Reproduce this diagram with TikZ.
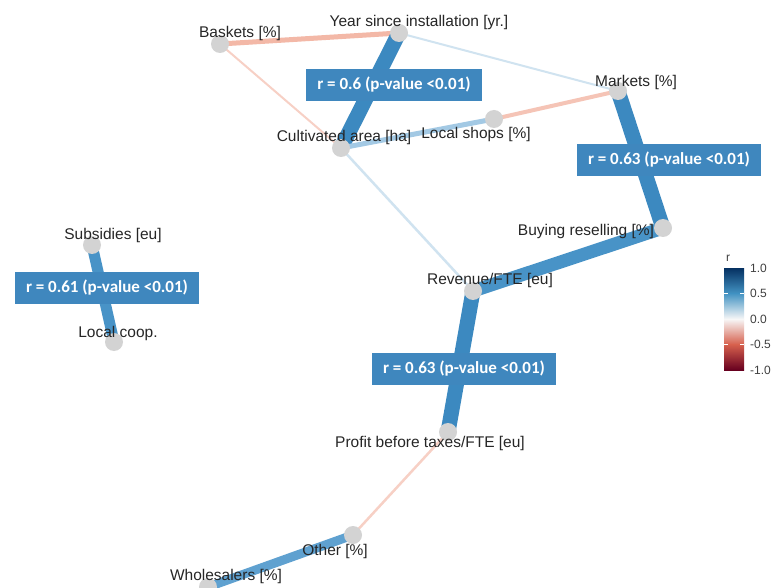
\documentclass[tikz,border=0pt]{standalone}
\usepackage{fontspec}
\setmainfont{Liberation Sans}
\newfontfamily\boxfont{Carlito}
\usetikzlibrary{backgrounds}

\definecolor{dotgrey}{RGB}{211,211,211}
\definecolor{boxblue}{RGB}{63,135,190}
\definecolor{posstrong}{RGB}{60,137,192}
\definecolor{posmid}{RGB}{72,147,199}
\definecolor{poslow}{RGB}{95,161,208}
\definecolor{posweak}{RGB}{163,201,228}
\definecolor{posfaint}{RGB}{208,227,240}
\definecolor{negmid}{RGB}{243,184,167}
\definecolor{negweak}{RGB}{245,196,182}
\definecolor{negfaint}{RGB}{247,208,197}
\definecolor{rdbuA}{RGB}{5,48,97}
\definecolor{rdbuB}{RGB}{33,102,172}
\definecolor{rdbuC}{RGB}{67,147,195}
\definecolor{rdbuD}{RGB}{146,197,222}
\definecolor{rdbuE}{RGB}{247,247,247}
\definecolor{rdbuF}{RGB}{244,165,130}
\definecolor{rdbuG}{RGB}{214,96,77}
\definecolor{rdbuH}{RGB}{178,24,43}
\definecolor{rdbuI}{RGB}{103,0,31}

\begin{document}
\begin{tikzpicture}[x=1pt, y=-1pt, inner sep=0pt,
  dot/.style={circle, minimum size=18pt, fill=dotgrey},
  var/.style={font=\fontsize{15.5}{18}\selectfont, text=black!85},
  rbox/.style={fill=boxblue, text=white, inner xsep=11.5pt, minimum height=32pt,
    font=\boxfont\bfseries\fontsize{17}{20}\selectfont},
  tick/.style={font=\fontsize{12}{14}\selectfont, text=black!75, anchor=west}]
\useasboundingbox (0,0) rectangle (771,588);

% variables
\node (bsk) at (220,44) [dot] {};
\node (yr) at (399,33) [dot] {};
\node (mkt) at (618,91) [dot] {};
\node (lsh) at (494,119) [dot] {};
\node (cult) at (341,148) [dot] {};
\node (buy) at (663,228) [dot] {};
\node (rev) at (473,291) [dot] {};
\node (sub) at (92,245) [dot] {};
\node (coop) at (114,342) [dot] {};
\node (prof) at (448,432) [dot] {};
\node (oth) at (353,535) [dot] {};
\node (whs) at (208,587) [dot] {};

% correlations
\begin{scope}[on background layer]
\fill[white] (0,0) rectangle (771,588);
\draw[negmid, line width=5pt] (bsk.center) -- (yr.center);
\draw[negfaint, line width=2pt] (bsk.center) -- (cult.center);
\draw[posfaint, line width=2pt] (yr.center) -- (mkt.center);
\draw[posstrong, line width=15pt] (yr.center) -- (cult.center);
\draw[negweak, line width=4pt] (mkt.center) -- (lsh.center);
\draw[posweak, line width=5pt] (lsh.center) -- (cult.center);
\draw[posfaint, line width=2.5pt] (cult.center) -- (rev.center);
\draw[posstrong, line width=15pt] (mkt.center) -- (buy.center);
\draw[posmid, line width=13pt] (buy.center) -- (rev.center);
\draw[posstrong, line width=15pt] (rev.center) -- (prof.center);
\draw[negfaint, line width=2.5pt] (prof.center) -- (oth.center);
\draw[poslow, line width=9pt] (oth.center) -- (whs.center);
\draw[posmid, line width=11pt] (sub.center) -- (coop.center);
\end{scope}

% names
\node (bskl) at (240,33) [var] {Baskets [\%]};
\node (yrl) at (419,22) [var] {Year since installation [yr.]};
\node (mktl) at (636,82) [var] {Markets [\%]};
\node (lshl) at (476,134) [var] {Local shops [\%]};
\node (cultl) at (344,137) [var] {Cultivated area [ha]};
\node (buyl) at (586,231) [var] {Buying reselling [\%]};
\node (revl) at (490,280) [var] {Revenue/FTE [eu]};
\node (subl) at (113,235) [var] {Subsidies [eu]};
\node (coopl) at (118,333) [var] {Local coop.};
\node (profl) at (430,443) [var] {Profit before taxes/FTE [eu]};
\node (othl) at (335,551) [var] {Other [\%]};
\node (whsl) at (226,576) [var] {Wholesalers [\%]};

% significant pairs
\node (r1) at (394,85) [rbox] {r = 0.6 (p-value <0.01)};
\node (r2) at (669,160) [rbox] {r = 0.63 (p-value <0.01)};
\node (r3) at (107,288) [rbox] {r = 0.61 (p-value <0.01)};
\node (r4) at (464,369) [rbox] {r = 0.63 (p-value <0.01)};

% legend
\node (rt) at (728,258) [font=\fontsize{12}{14}\selectfont, text=black!75] {r};
\shade[top color=rdbuA, middle color=rdbuB, bottom color=rdbuC] (724,268) rectangle (744,293.5);
\shade[top color=rdbuC, middle color=rdbuD, bottom color=rdbuE] (724,293.5) rectangle (744,319);
\shade[top color=rdbuE, middle color=rdbuF, bottom color=rdbuG] (724,319) rectangle (744,344.5);
\shade[top color=rdbuG, middle color=rdbuH, bottom color=rdbuI] (724,344.5) rectangle (744,370);
\draw[white, line width=0.8pt] (724,293.5) -- (728,293.5) (740,293.5) -- (744,293.5);
\draw[white, line width=0.8pt] (724,344.5) -- (728,344.5) (740,344.5) -- (744,344.5);
\node (t1) at (750,268) [tick] {1.0};
\node (t2) at (750,293.5) [tick] {0.5};
\node (t3) at (750,319) [tick] {0.0};
\node (t4) at (750,344.5) [tick] {-0.5};
\node (t5) at (750,370) [tick] {-1.0};
\end{tikzpicture}
\end{document}
